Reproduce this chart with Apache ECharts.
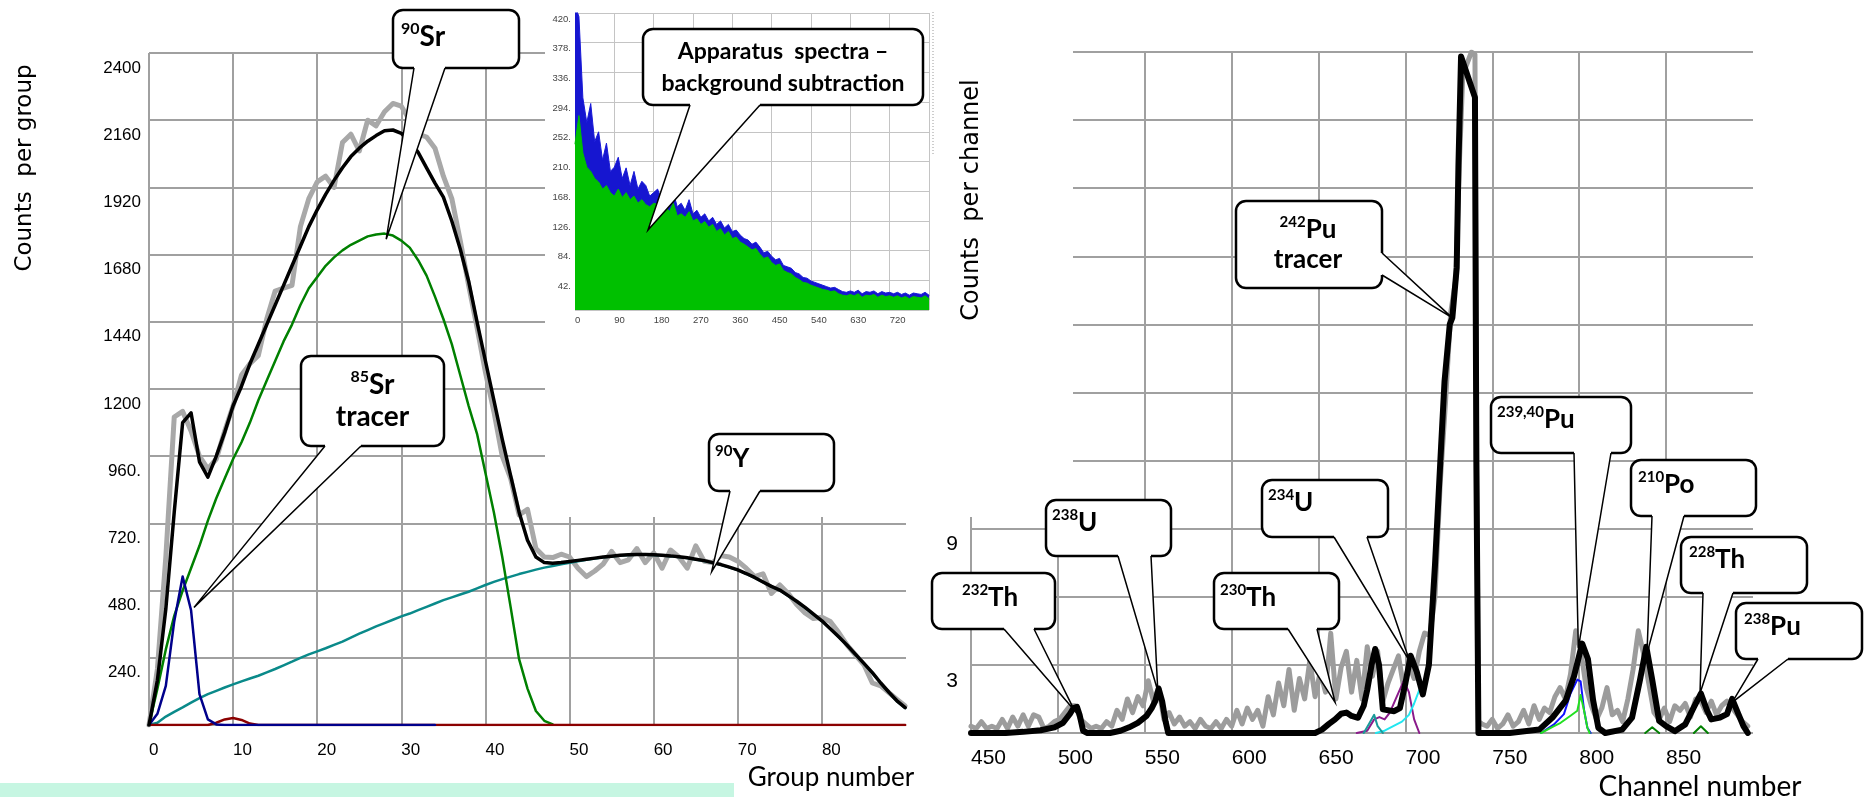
<!DOCTYPE html>
<html>
<head>
<meta charset="utf-8">
<script src="https://cdn.jsdelivr.net/npm/echarts@6.0.0/dist/echarts.min.js"></script>
<style>
html,body{margin:0;padding:0;background:#ffffff;}
#chart{width:1864px;height:797px;}
</style>
</head>
<body>
<div id="chart"></div>
<script>
// ================= DATA =================
// ---- Left panel: counts per group vs group number ----
const groups = [0,1,2,3,4,5,6,7,8,9,10,11,12,13,14,15,16,17,18,19,20,21,22,23,24,25,26,27,28,29,30,31,32,33,34,35,36,37,38,39,40,41,42,43,44,45,46,47,48,49,50,51,52,53,54,55,56,57,58,59,60,61,62,63,64,65,66,67,68,69,70,71,72,73,74,75,76,77,78,79,80,81,82,83,84,85,86,87,88,89,89.9];
const measuredGroups = [0,200,600,1100,1120,1050,960,915,950,1050,1140,1250,1290,1320,1450,1550,1560,1570,1780,1880,1940,1960,1920,2080,2110,2050,2160,2140,2190,2220,2210,2160,2110,2100,2060,1960,1880,1730,1570,1420,1260,1120,960,880,750,770,630,600,598,610,600,560,530,550,575,620,580,590,630,580,615,560,625,600,560,640,585,580,605,600,585,560,530,540,470,500,470,430,400,380,385,370,330,285,250,215,150,140,115,90,68];
const fitTotal = [0,160,414,760,1080,1115,940,885,960,1045,1140,1210,1290,1360,1430,1500,1570,1640,1710,1780,1840,1895,1945,1990,2030,2060,2085,2105,2122,2125,2113,2085,2045,1990,1935,1885,1800,1700,1585,1440,1300,1160,1020,890,760,660,600,580,578,580,584,588,592,596,600,603,606,608,609,609,608,606,604,601,597,592,587,580,573,564,554,541,527,511,495,482,462,442,420,396,372,344,315,285,252,220,187,150,116,84,62];
const sr90 = [0,130,270,390,480,560,640,730,810,880,950,1010,1080,1160,1230,1300,1370,1430,1500,1560,1600,1640,1670,1695,1715,1730,1745,1752,1755,1748,1730,1705,1660,1605,1530,1450,1360,1250,1140,1040,900,760,600,420,235,130,50,15,2];
const y90 = [0,8,30,47,63,80,96,110,122,134,145,156,166,176,188,200,213,226,240,252,263,274,286,298,312,326,339,352,364,376,388,398,410,422,434,446,456,466,476,488,500,511,521,530,539,547,555,562,568,574,579,585,590,595,599,602,605,607,608,608,607,605,603,600,596,591,586,579,572,563,553,540,526,510,494,481,461,441,419,395,371,343,314,284,251,219,186,149,115,83,61];
const sr85 = [0,40,140,370,530,410,110,20,2,0,0,0,0,0,0,0,0,0,0,0,0,0,0,0,0,0,0,0,0,0,0,0,0,0,0];
const minorComp = [0,0,0,0,0,0,0,0,8,20,25,18,5,0,0,0,0,0,0,0,0,0,0,0,0,0,0,0,0,0,0,0,0,0,0,0,0,0,0,0,0,0,0,0,0,0,0,0,0,0,0,0,0,0,0,0,0,0,0,0,0,0,0,0,0,0,0,0,0,0,0,0,0,0,0,0,0,0,0,0,0,0,0,0,0,0,0,0,0,0,0];
const leftYTicks = [240,480,720,960,1200,1440,1680,1920,2160,2400];

// ---- Inset: apparatus spectra ----
const insetChannels = [0,9,18,27,36,45,54,63,72,81,90,99,108,117,126,135,144,153,162,171,180,189,198,207,216,225,234,243,252,261,270,279,288,297,306,315,324,333,342,351,360,369,378,387,396,405,414,423,432,441,450,459,468,477,486,495,504,513,522,531,540,549,558,567,576,585,594,603,612,621,630,639,648,657,666,675,684,693,702,711,720,729,738,747,756,765,774,783,792,801,810];
const insetBlue = [430,415,300,265,292,238,252,212,236,196,202,216,186,201,176,196,171,182,176,161,166,171,156,161,151,166,146,151,141,156,136,141,131,136,126,131,121,126,116,121,111,113,106,101,99,93,96,89,81,83,76,71,73,63,61,59,53,51,46,45,41,39,37,35,33,31,32,29,26,25,27,25,28,23,26,25,27,23,26,24,25,23,25,22,24,21,24,23,22,25,21];
const insetGreen = [235,275,222,202,196,186,181,171,176,166,161,171,159,166,156,161,151,156,149,146,151,149,141,146,139,151,133,136,131,139,126,129,121,125,117,121,111,115,106,111,101,103,96,93,89,85,87,79,73,75,67,63,65,56,53,51,46,43,39,38,35,33,31,29,28,26,27,23,21,20,22,20,23,18,21,20,22,18,21,19,20,18,20,17,19,16,19,18,17,20,16];

// ---- Right panel: counts per channel vs channel number ([channel, counts]) ----
const rightMeasured = [[450,0.3],[453,0.2],[456,0.5],[459,0.2],[462,0.3],[465,0.2],[468,0.6],[471,0.2],[474,0.7],[477,0.3],[480,0.8],[483,0.3],[486,0.8],[489,0.7],[492,0.2],[495,0.3],[498,0.5],[501,0.6],[504,0.9],[507,1.2],[510,1.2],[513,0.6],[516,0.4],[519,0.2],[522,0.3],[525,0.2],[528,0.5],[531,0.3],[534,1.0],[537,0.6],[540,1.5],[543,0.9],[546,1.6],[549,1.2],[552,2.3],[555,1.4],[558,2.0],[561,0.6],[564,0.9],[567,0.4],[570,0.7],[573,0.3],[576,0.5],[579,0.2],[582,0.6],[585,0.3],[588,0.2],[591,0.5],[594,0.2],[597,0.6],[600,0.3],[603,1.0],[606,0.4],[609,1.1],[612,0.6],[615,1.0],[618,0.3],[621,1.6],[624,0.8],[627,2.2],[630,1.2],[633,2.8],[636,1.0],[639,2.4],[642,1.5],[645,3.2],[648,1.6],[651,2.7],[654,1.8],[657,4.4],[660,1.5],[663,2.9],[666,3.6],[669,1.8],[672,3.2],[675,1.5],[678,3.8],[681,2.5],[684,3.6],[687,1.4],[690,2.2],[693,2.8],[696,3.4],[699,2.0],[702,3.0],[705,2.4],[708,3.6],[711,4.4],[714,4.3],[717,6.0],[720,11],[723,14.5],[726,18.5],[729,20],[731,25],[733,29],[738,30],[740,29.9],[741,12],[742,0.5],[744,0.4],[747,0.3],[750,0.6],[753,0.2],[756,0.4],[759,0.8],[762,0.3],[765,0.5],[768,1.0],[771,0.4],[774,1.2],[777,0.6],[780,1.1],[783,0.9],[786,1.6],[789,2.0],[792,1.5],[795,2.6],[798,4.5],[801,3.6],[804,2.0],[807,1.2],[810,0.6],[813,1.1],[816,2.0],[819,0.8],[822,1.0],[825,0.5],[828,1.5],[831,2.8],[834,4.5],[837,3.5],[840,2.2],[843,0.9],[846,0.6],[849,1.1],[852,0.5],[855,1.2],[858,1.0],[861,1.3],[864,0.7],[867,1.5],[870,1.4],[873,0.9],[876,1.4],[879,0.8],[882,1.2],[885,1.4],[888,1.1],[891,0.8],[894,0.5],[897,0.3]];
const rightFit = [[450,0],[470,0],[480,0.05],[490,0.12],[498,0.25],[503,0.45],[507,0.85],[509,1.1],[511,1.15],[512.5,0.8],[514.5,0.1],[517,0],[530,0],[536,0.1],[541,0.25],[546,0.45],[551,0.75],[554,1.1],[556,1.4],[558,1.95],[560,1.4],[562,0.5],[563.5,0],[648,0],[652,0.15],[656,0.4],[659.5,0.6],[663,0.85],[666,0.9],[669,0.75],[672.7,0.67],[676,1.2],[678,1.9],[680.5,3.0],[682.6,3.7],[684.8,3.0],[687,1.04],[693.5,0.96],[696.8,1.1],[700,2.2],[703,3.4],[706.5,2.7],[710,1.7],[713.5,3.0],[717,7.4],[720.5,12.6],[722.5,15.5],[725.5,18],[727,18.3],[729.5,20.5],[730.5,25],[732,29.8],[740,28],[740.8,12],[742,0],[760,0],[777,0.15],[784.6,0.68],[792.3,1.44],[797,2.5],[801.7,3.94],[805,3.26],[808,1.44],[811,0.23],[815,0],[824.7,0.15],[830.4,0.68],[835,2.35],[838.6,3.8],[842,2.35],[846,0.53],[850,0.3],[855,0.08],[861,0.38],[866,1.14],[870,1.74],[873.5,1.0],[876,0.6],[881,0.68],[885,0.83],[888,1.5],[891.6,0.83],[894.5,0.3],[897,0]];
const u234Comp = [[672,0],[678,0.1],[682,0.6],[685,0.7],[688,0.6],[691,0.9],[695,1.6],[699,2.3],[702,1.8],[705,0.6],[708,0]];
const pu242Tail = [[683,0],[688,0.1],[693,0.3],[698,0.5],[702,0.8],[705,1.3],[708,1.9]];
const th230Comp = [[676,0],[679,0.4],[682,0.8],[684,0.3],[687,0]];
const pu239Comp = [[778,0],[785.5,0.38],[791.2,0.83],[795,1.74],[798.9,2.35],[800.8,2.27],[802.8,1.0],[804.7,0.23],[806.6,0]];
const pu240Comp = [[778,0],[785.5,0.3],[789.3,0.45],[795,0.76],[798.9,0.98],[800.8,1.67],[802.8,0.98],[804.7,0.23],[806,0]];
const po210Comp = [[838,0],[842,0.25],[846,0]];
const th228Comp = [[866,0],[870,0.3],[874,0]];
const rightYLabels = [3, 9];

// ================= CHART =================
const chart = echarts.init(document.getElementById('chart'), null, {renderer: 'canvas', width: 1864, height: 797});
const zip = (xs, ys) => ys.map((v, i) => [xs[i], v]);
const mainGrid = {show: true, showMaxLine: false, lineStyle: {color: '#a0a0a0', width: 2}};
const insetGrid = {show: true, lineStyle: {color: '#c4c4c4', width: 1}};
const lbl = (o) => Object.assign({show: true, color: '#000', fontFamily: 'Liberation Sans'}, o);

function lineSeries(ax, data, color, width, z, extra) {
  return Object.assign({
    type: 'line', xAxisIndex: ax, yAxisIndex: ax, data: data, symbol: 'none', showSymbol: false,
    smooth: false, z: z, silent: true,
    lineStyle: {color: color, width: width, join: 'round', cap: 'round'}
  }, extra || {});
}

const option = {
  animation: false,
  backgroundColor: '#ffffff',
  grid: [
    {left: 149, top: 53, width: 757, height: 672, outerBoundsMode: 'none', containLabel: false},
    {left: 575, top: 13, width: 354, height: 297, outerBoundsMode: 'none', containLabel: false},
    {left: 971, top: 52, width: 782, height: 681, outerBoundsMode: 'none', containLabel: false}
  ],
  xAxis: [
    {gridIndex: 0, type: 'value', min: 0, max: 90, interval: 10,
     axisLine: {show: false}, axisTick: {show: false}, splitLine: mainGrid,
     axisLabel: lbl({fontSize: 17, align: 'left', margin: 17, showMaxLabel: false})},
    {gridIndex: 1, type: 'value', min: 0, max: 810, interval: 90, z: 60,
     axisLine: {show: false}, axisTick: {show: false}, splitLine: insetGrid,
     axisLabel: lbl({fontSize: 9.5, color: '#444', align: 'left', margin: 5, showMaxLabel: false})},
    {gridIndex: 2, type: 'value', min: 450, max: 900, interval: 50,
     axisLine: {show: false}, axisTick: {show: false}, splitLine: mainGrid,
     axisLabel: lbl({fontSize: 21, align: 'left', margin: 15, showMaxLabel: false})}
  ],
  yAxis: [
    {gridIndex: 0, type: 'value', min: 0, max: 2400, interval: 240,
     axisLine: {show: false}, axisTick: {show: false}, splitLine: {show: true, lineStyle: {color: '#a0a0a0', width: 2}},
     axisLabel: lbl({fontSize: 17, margin: 8, verticalAlign: 'top', lineHeight: 30,
       formatter: v => leftYTicks.indexOf(v) < 0 ? '' : (v < 1000 ? v + '.' : String(v))})},
    {gridIndex: 1, type: 'value', min: 0, max: 420, interval: 42, z: 60,
     axisLine: {show: false}, axisTick: {show: false}, splitLine: insetGrid,
     axisLabel: lbl({fontSize: 9.5, color: '#444', margin: 4, verticalAlign: 'top', lineHeight: 12,
       formatter: v => v === 0 ? '' : v + '.'})},
    {gridIndex: 2, type: 'value', min: 0, max: 30, interval: 3,
     axisLine: {show: false}, axisTick: {show: false}, splitLine: {show: true, lineStyle: {color: '#a0a0a0', width: 2}},
     axisLabel: lbl({fontSize: 21, margin: 13, verticalAlign: 'top', lineHeight: 32,
       formatter: v => rightYLabels.indexOf(v) < 0 ? '' : String(v)})}
  ],
  series: [
    // left panel
    lineSeries(0, zip(groups, measuredGroups), '#a8a8a8', 5, 2),
    lineSeries(0, zip(groups, y90), '#0a8a8a', 2.5, 3),
    lineSeries(0, zip(groups, sr90), '#008000', 2.5, 3),
    lineSeries(0, zip(groups, minorComp), '#8b0000', 2.5, 3),
    lineSeries(0, zip(groups, sr85), '#00008b', 2.5, 3),
    lineSeries(0, zip(groups, fitTotal), '#000000', 3.5, 4),
    // inset
    lineSeries(1, zip(insetChannels, insetBlue), '#1a1ad8', 1, 61, {areaStyle: {color: '#1616d0', opacity: 1}}),
    lineSeries(1, zip(insetChannels, insetGreen), '#00c000', 1, 62, {areaStyle: {color: '#00c000', opacity: 1}}),
    // right panel
    lineSeries(2, rightMeasured, '#9c9c9c', 5, 2),
    lineSeries(2, u234Comp, '#8b1a8b', 2, 3),
    lineSeries(2, pu242Tail, '#22e6f0', 2, 3),
    lineSeries(2, th230Comp, '#1a9a9a', 2, 3),
    lineSeries(2, pu239Comp, '#1010ff', 2, 3),
    lineSeries(2, pu240Comp, '#22e022', 2, 3),
    lineSeries(2, po210Comp, '#008000', 2, 3),
    lineSeries(2, th228Comp, '#008000', 2, 3),
    lineSeries(2, rightFit, '#000000', 6, 4)
  ]
};
chart.setOption(option);

// ================= ANNOTATIONS (layout) =================
const richBig = {
  s: {fontSize: 16, fontWeight: 'bold', fontFamily: 'Lato', verticalAlign: 'top', lineHeight: 18, fill: '#000'},
  b: {fontSize: 28, fontWeight: 'bold', fontFamily: 'Lato', lineHeight: 32, fill: '#000'},
  a: {fontSize: 23, fontWeight: 'bold', fontFamily: 'Lato', lineHeight: 32, fill: '#000'}
};
const richSmall = {
  s: {fontSize: 15, fontWeight: 'bold', fontFamily: 'Lato', verticalAlign: 'top', lineHeight: 16, fill: '#000'},
  b: {fontSize: 26, fontWeight: 'bold', fontFamily: 'Lato', lineHeight: 30, fill: '#000'}
};
const callouts = [
  {ax: 0, tip: [28.2, 1735], box: [393, 10, 126, 58], base: [[414, 68], [445, 68]], inward: [0, -3], text: '{s|90}{b|Sr}', at: [401, 37], align: 'left', rich: richBig},
  {ax: 0, tip: [5.35, 420], box: [301, 356, 143, 90], base: [[325, 446], [361, 446]], inward: [0, -3], text: '{s|85}{b|Sr}\n{b|tracer}', at: [372.5, 401], align: 'center', rich: richBig},
  {ax: 0, tip: [66.9, 548], box: [709, 434, 125, 57], base: [[730, 491], [760, 491]], inward: [0, -3], text: '{s|90}{b|Y}', at: [715, 459], align: 'left', rich: richSmall},
  {ax: 1, tip: [167, 113], box: [643, 29, 280, 76], base: [[690, 105], [760, 105]], inward: [0, -3], text: '{a|Apparatus  spectra –}\n{a|background subtraction}', at: [783, 68], align: 'center', rich: richBig},
  {ax: 2, tip: [509.5, 1.0], box: [932, 573, 123, 56], base: [[1004, 629], [1034, 629]], inward: [0, -3], text: '{s|232}{b|Th}', at: [962, 598], align: 'left', rich: richSmall},
  {ax: 2, tip: [557.5, 1.85], box: [1046, 500, 125, 56], base: [[1118, 556], [1151, 556]], inward: [0, -3], text: '{s|238}{b|U}', at: [1052, 523], align: 'left', rich: richSmall},
  {ax: 2, tip: [659.5, 1.35], box: [1214, 573, 125, 56], base: [[1288, 629], [1317, 629]], inward: [0, -3], text: '{s|230}{b|Th}', at: [1220, 598], align: 'left', rich: richSmall},
  {ax: 2, tip: [702.5, 3.15], box: [1262, 480, 126, 57], base: [[1334, 537], [1367, 537]], inward: [0, -3], text: '{s|234}{b|U}', at: [1268, 503], align: 'left', rich: richSmall},
  {ax: 2, tip: [799.5, 3.75], box: [1491, 397, 140, 56], base: [[1574, 453], [1611, 453]], inward: [0, -3], text: '{s|239,40}{b|Pu}', at: [1497, 420], align: 'left', rich: richSmall},
  {ax: 2, tip: [839, 3.5], box: [1631, 460, 125, 56], base: [[1652, 516], [1684, 516]], inward: [0, -3], text: '{s|210}{b|Po}', at: [1638, 485], align: 'left', rich: richSmall},
  {ax: 2, tip: [869.5, 1.75], box: [1681, 537, 126, 56], base: [[1703, 593], [1733, 593]], inward: [0, -3], text: '{s|228}{b|Th}', at: [1689, 560], align: 'left', rich: richSmall},
  {ax: 2, tip: [888, 1.35], box: [1736, 603, 126, 56], base: [[1758, 659], [1788, 659]], inward: [0, -3], text: '{s|238}{b|Pu}', at: [1744, 627], align: 'left', rich: richSmall},
  {ax: 2, tip: [726.8, 18.3], box: [1236, 201, 146, 87], base: [[1382, 253], [1382, 275]], inward: [-3, 0], text: '{s|242}{b|Pu}\n{b|tracer}', at: [1308, 245], align: 'center', rich: richSmall}
];

function txt(x, y, text, size, family, rot, z) {
  return {type: 'text', x: x, y: y, rotation: rot || 0, z: z || 100,
    style: {text: text, fontSize: size, fontFamily: family, fill: '#000',
      align: 'center', verticalAlign: 'middle', textAlign: 'center', textVerticalAlign: 'middle'}};
}

const els = [];
// white areas of the composite picture
els.push({type: 'rect', z: 50, shape: {x: 545, y: 0, width: 402, height: 517}, style: {fill: '#ffffff'}});
els.push({type: 'rect', z: 50, shape: {x: 955, y: 30, width: 118, height: 487}, style: {fill: '#ffffff'}});
els.push({type: 'rect', z: 80, shape: {x: 1572, y: 764, width: 160, height: 12}, style: {fill: '#ffffff'}});
els.push({type: 'rect', z: 5, shape: {x: 0, y: 783, width: 734, height: 14}, style: {fill: '#c6f6e2'}});
els.push({type: 'line', z: 60, shape: {x1: 933, y1: 12, x2: 933, y2: 155}, style: {stroke: '#9a9a9a', lineWidth: 1, lineDash: [1, 2]}});
// axis titles
els.push(txt(25, 168, 'Counts  per group', 23, 'DejaVu Sans', Math.PI / 2));
els.push(txt(972, 200, 'Counts  per channel', 24, 'DejaVu Sans', Math.PI / 2));
els.push(txt(831, 778, 'Group number', 26, 'Lato'));
els.push(txt(1700, 787, 'Channel number', 28, 'Lato'));

callouts.forEach((c, i) => {
  const p = chart.convertToPixel({xAxisIndex: c.ax, yAxisIndex: c.ax}, c.tip);
  const zb = 100 + i * 5;
  const b1 = c.base[0], b2 = c.base[1];
  const in1 = [b1[0] + c.inward[0], b1[1] + c.inward[1]];
  const in2 = [b2[0] + c.inward[0], b2[1] + c.inward[1]];
  els.push({type: 'rect', z: zb, shape: {x: c.box[0], y: c.box[1], width: c.box[2], height: c.box[3], r: 10},
    style: {fill: '#ffffff', stroke: '#000', lineWidth: 2.5}});
  els.push({type: 'polygon', z: zb + 1, shape: {points: [in1, b1, p, b2, in2]}, style: {fill: '#ffffff', stroke: null}});
  els.push({type: 'polyline', z: zb + 2, shape: {points: [b1, p, b2]}, style: {stroke: '#000', lineWidth: 1.5, fill: null}});
  els.push({type: 'text', z: zb + 3, x: c.at[0], y: c.at[1],
    style: {text: c.text, rich: c.rich, fill: '#000', align: c.align, textAlign: c.align,
      verticalAlign: 'middle', textVerticalAlign: 'middle'}});
});

chart.setOption({graphic: {elements: els}});
</script>
</body>
</html>
